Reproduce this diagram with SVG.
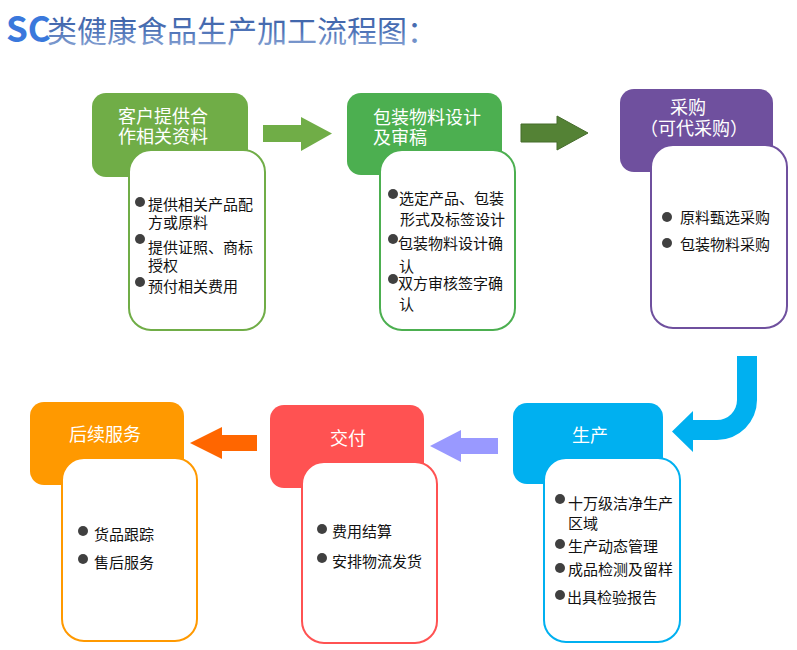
<svg xmlns="http://www.w3.org/2000/svg" width="797" height="650" viewBox="0 0 797 650">
<defs>
<linearGradient id="tg" x1="0" y1="0" x2="0" y2="1">
<stop offset="0" stop-color="#2B4F96"/>
<stop offset="0.6" stop-color="#4F74B8"/>
<stop offset="1" stop-color="#9DB4DD"/>
</linearGradient>
<style>
.hd{font-family:"Noto Sans CJK SC","Noto Sans",sans-serif;font-size:18px;fill:#ffffff}
.bt{font-family:"Noto Sans CJK SC","Noto Sans",sans-serif;font-size:15px;fill:#111111}
.card{fill:#ffffff;stroke-width:2}
.dot{fill:#404040}
</style>
</defs>
<rect width="797" height="650" fill="#ffffff"/>
<text x="6" y="42" font-family="'Noto Sans CJK SC',sans-serif" font-size="30"><tspan font-weight="bold" font-size="35" fill="#3A78DC">SC</tspan><tspan x="47" fill="url(#tg)">类健康食品生产加工流程图：</tspan></text>

<g id="connectors">
<polygon points="263,125 301,125 301,117 332,133.5 301,151 301,142 263,142" fill="#70AD47"/>
<polygon points="521,124 557,124 557,116 588,133 557,150 557,142 521,142" fill="#548235" stroke="#456C2B" stroke-width="1"/>
<path d="M737,356 L757,356 L757,400 A40,40 0 0 1 717,440 L693,440 L693,452 L672,431.5 L693,411 L693,420 L717,420 A20,20 0 0 0 737,400 Z" fill="#00B0F0"/>
<polygon points="498,438 461,438 461,430 430,446 461,462 461,454 498,454" fill="#9999FF"/>
<polygon points="257,435 222,435 222,427 190,443 222,459 222,451 257,451" fill="#FF6600"/>
</g>

<g id="node1">
<rect x="92" y="93" width="156" height="84" rx="14" fill="#70AD47"/>
<text class="hd" x="118" y="123">客户提供合</text>
<text class="hd" x="118" y="143">作相关资料</text>
<rect class="card" x="129" y="150" width="136" height="180" rx="22" stroke="#70AD47"/>
<circle class="dot" cx="140" cy="202" r="5"/>
<circle class="dot" cx="140" cy="239" r="5"/>
<circle class="dot" cx="140" cy="282" r="5"/>
<text class="bt" x="148" y="210">提供相关产品配</text>
<text class="bt" x="148" y="228">方或原料</text>
<text class="bt" x="148" y="253">提供证照、商标</text>
<text class="bt" x="148" y="271">授权</text>
<text class="bt" x="148" y="292">预付相关费用</text>
</g>

<g id="node2">
<rect x="347" y="93" width="155" height="82" rx="14" fill="#4CAF50"/>
<text class="hd" x="373" y="123.5">包装物料设计</text>
<text class="hd" x="373" y="144">及审稿</text>
<rect class="card" x="380" y="150" width="135" height="180" rx="22" stroke="#4CAF50"/>
<circle class="dot" cx="393" cy="194" r="5"/>
<circle class="dot" cx="393" cy="239" r="5"/>
<circle class="dot" cx="393" cy="279" r="5"/>
<text class="bt" x="399" y="204">选定产品、包装</text>
<text class="bt" x="400" y="225">形式及标签设计</text>
<text class="bt" x="398" y="249">包装物料设计确</text>
<text class="bt" x="399" y="272">认</text>
<text class="bt" x="398" y="289">双方审核签字确</text>
<text class="bt" x="399" y="310">认</text>
</g>

<g id="node3">
<rect x="620" y="89" width="153" height="83" rx="14" fill="#6F509E"/>
<text class="hd" x="688" y="114" text-anchor="middle">采购</text>
<text class="hd" x="694" y="135" text-anchor="middle">（可代采购）</text>
<rect class="card" x="651" y="145" width="136" height="183" rx="22" stroke="#6F509E"/>
<circle class="dot" cx="667" cy="217" r="5"/>
<circle class="dot" cx="667" cy="243" r="5"/>
<text class="bt" x="680" y="223">原料甄选采购</text>
<text class="bt" x="680" y="250">包装物料采购</text>
</g>

<g id="node4">
<rect x="513" y="403" width="150" height="81" rx="14" fill="#00B0F0"/>
<text class="hd" x="590" y="442" text-anchor="middle">生产</text>
<rect class="card" x="544" y="458" width="136" height="184" rx="22" stroke="#00B0F0"/>
<circle class="dot" cx="560" cy="499" r="5"/>
<circle class="dot" cx="560" cy="544" r="5"/>
<circle class="dot" cx="560" cy="568" r="5"/>
<circle class="dot" cx="560" cy="595" r="5"/>
<text class="bt" x="568" y="509">十万级洁净生产</text>
<text class="bt" x="568" y="529">区域</text>
<text class="bt" x="568" y="552">生产动态管理</text>
<text class="bt" x="568" y="575">成品检测及留样</text>
<text class="bt" x="567" y="603">出具检验报告</text>
</g>

<g id="node5">
<rect x="270" y="405" width="154" height="83" rx="14" fill="#FF5252"/>
<text class="hd" x="348" y="445" text-anchor="middle">交付</text>
<rect class="card" x="302" y="462" width="135" height="181" rx="22" stroke="#FF5252"/>
<circle class="dot" cx="322" cy="529" r="5"/>
<circle class="dot" cx="322" cy="558" r="5"/>
<text class="bt" x="332" y="537">费用结算</text>
<text class="bt" x="332" y="567">安排物流发货</text>
</g>

<g id="node6">
<rect x="30" y="402" width="154" height="83" rx="14" fill="#FF9900"/>
<text class="hd" x="105" y="441" text-anchor="middle">后续服务</text>
<rect class="card" x="62" y="458" width="135" height="183" rx="22" stroke="#FF9900"/>
<circle class="dot" cx="83" cy="531" r="5"/>
<circle class="dot" cx="83" cy="559" r="5"/>
<text class="bt" x="94" y="540">货品跟踪</text>
<text class="bt" x="94" y="568">售后服务</text>
</g>
</svg>
